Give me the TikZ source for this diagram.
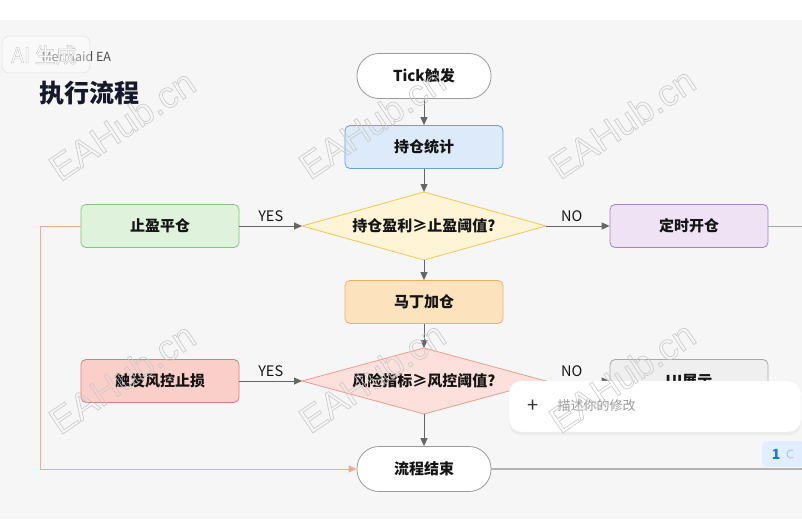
\documentclass[tikz,border=0pt]{standalone}
\usepackage{fontspec}
\setmainfont{Noto Sans CJK SC}
\newfontfamily\wmfont{Liberation Sans}
\usetikzlibrary{arrows.meta,shadows}
\definecolor{bgc}{HTML}{F6F6F6}
\definecolor{edgec}{HTML}{666666}
\definecolor{txtc}{HTML}{151515}
\definecolor{bluef}{HTML}{DCEAFA}\definecolor{blued}{HTML}{6AA0E0}
\definecolor{yelf}{HTML}{FFF5D6}\definecolor{yeld}{HTML}{F2C55C}
\definecolor{grnf}{HTML}{DFF3DC}\definecolor{grnd}{HTML}{7FC77C}
\definecolor{purf}{HTML}{EEE2F4}\definecolor{purd}{HTML}{A684CC}
\definecolor{orgf}{HTML}{FDE3BD}\definecolor{orgd}{HTML}{F0B060}
\definecolor{rdf}{HTML}{FDE0DC}\definecolor{rdd}{HTML}{EE9A90}
\definecolor{rbf}{HTML}{FBCFC9}\definecolor{rbd}{HTML}{E07A78}
\definecolor{uif}{HTML}{EFEFEF}\definecolor{uid}{HTML}{A8A8A8}
\definecolor{stad}{HTML}{9A9A9A}
\definecolor{pinkl}{HTML}{F5A898}
\definecolor{wmc}{HTML}{C8C8C8}
\definecolor{badgef}{HTML}{E0EEFF}
\definecolor{badget}{HTML}{1A73E8}
\newcommand{\outlinetext}[1]{\special{pdf:literal direct 1 Tr 0.7 w}#1\special{pdf:literal direct 0 Tr}}
\newcommand{\whiteoutline}[1]{\special{pdf:literal direct 2 Tr 0.5 w 0.8 G}#1\special{pdf:literal direct 0 Tr}}
\tikzset{
  boxnode/.style={draw, line width=0.8pt, rounded corners=5pt, minimum width=158pt, minimum height=43pt, font=\bfseries\fontsize{15}{18}\selectfont, text=txtc},
  stadnode/.style={draw=stad, fill=white, line width=0.8pt, rounded corners=22pt, minimum width=134pt, minimum height=45pt, font=\bfseries\fontsize{15}{18}\selectfont, text=txtc},
  dlabel/.style={font=\bfseries\fontsize{15}{18}\selectfont, text=txtc},
  arr/.style={draw=edgec, line width=1pt, -{Triangle[width=7pt,length=8pt]}},
  elabel/.style={font=\fontsize{14.5}{16}\selectfont, text=txtc, above=0pt},
  wmark/.style={font=\wmfont\fontsize{37}{40}\selectfont, text=wmc, rotate=34, opacity=0.9},
}
\begin{document}
\begin{tikzpicture}[x=1pt,y=-1pt]
\useasboundingbox (0,0) rectangle (802,519);
\fill[white] (0,0) rectangle (802,519);
\fill[bgc] (0,20) rectangle (802,519);
% header
\node[anchor=west, font=\fontsize{12.5}{14}\selectfont, text=black!70] (brand) at (38,57) {Mermaid EA};
\node[anchor=west, font=\bfseries\fontsize{25}{30}\selectfont, text={rgb,255:red,22;green,24;blue,45}] (title) at (36,93) {执行流程};
\draw[draw=black!10, fill=white, fill opacity=0.4, line width=0.8pt, rounded corners=7pt] (2,36) rectangle (90,73);
\node[font=\fontsize{21}{24}\selectfont, text=white] (aibadge) at (44,55) {\whiteoutline{AI 生成}};
% nodes
\node[stadnode] (tick) at (424,76) {Tick触发};
\node[boxnode, fill=bluef, draw=blued] (stat) at (424,147) {持仓统计};
\coordinate (d1t) at (424,192); \coordinate (d1b) at (424,260);
\coordinate (d1l) at (302,226); \coordinate (d1r) at (546,226);
\draw[fill=yelf, draw=yeld, line width=0.8pt] (d1t) -- (d1r) -- (d1b) -- (d1l) -- cycle;
\node[dlabel] (d1) at (424,226) {持仓盈利≥止盈阈值?};
\node[boxnode, fill=grnf, draw=grnd] (tp) at (160,226) {止盈平仓};
\node[boxnode, fill=purf, draw=purd] (open) at (689,226) {定时开仓};
\node[boxnode, fill=orgf, draw=orgd] (mart) at (424,302) {马丁加仓};
\coordinate (d2t) at (424,348); \coordinate (d2b) at (424,414);
\coordinate (d2l) at (302,381); \coordinate (d2r) at (546,381);
\draw[fill=rdf, draw=rdd, line width=0.8pt] (d2t) -- (d2r) -- (d2b) -- (d2l) -- cycle;
\node[dlabel] (d2) at (424,381) {风险指标≥风控阈值?};
\node[boxnode, fill=rbf, draw=rbd] (risk) at (160,381) {触发风控止损};
\node[boxnode, fill=uif, draw=uid] (ui) at (689,381) {UI展示};
\node[stadnode] (end) at (424,469) {流程结束};
\coordinate (rc1) at (802,226);
\coordinate (rc2) at (802,469);
\coordinate (lc) at (40,226);
% edges
\draw[arr] (tick) -- (stat);
\draw[arr] (stat) -- (d1t);
\draw[arr] (d1b) -- (mart);
\draw[arr] (mart) -- (d2t);
\draw[arr] (d2b) -- (end);
\draw[arr] (tp) -- node[elabel] {YES} (d1l);
\draw[arr] (d1r) -- node[elabel, xshift=-6pt] {NO} (open);
\draw[arr] (risk) -- node[elabel] {YES} (d2l);
\draw[arr] (d2r) -- node[elabel, xshift=-6pt] {NO} (ui);
\draw[draw=pinkl, line width=0.9pt, -{Triangle[width=7pt,length=8pt]}] (tp.west) -- (lc) |- (end.west);
\draw[draw=black!35, line width=1pt] (open.east) -- (rc1);
\draw[draw=black!30, line width=1.2pt] (end.east) -- (rc2);
% overlay input box
\draw[draw=black!6, fill=white, rounded corners=12pt, drop shadow={opacity=0.09, shadow xshift=0pt, shadow yshift=-3pt}] (509,381) rectangle (801,432);
\node[font=\fontsize{20}{22}\selectfont, text=black!80] (plus) at (533,406) {+};
\node[anchor=west, font=\fontsize{13}{15}\selectfont, text=black!40] (hint) at (554,406) {描述你的修改};
% badge
\fill[badgef, rounded corners=6pt] (762,441) rectangle (806,467);
\node[font=\bfseries\fontsize{14}{16}\selectfont, text=badget] (cnt) at (776,454) {1};
\draw[badget!40, line width=1pt] (793,457.5) arc[start angle=60, end angle=300, radius=4];
% watermarks
\foreach \wx/\wy [count=\i] in {122/125, 372/123, 622/123, 122/378, 372/377, 622/377}{
  \node[wmark] (wm\i) at (\wx,\wy) {\outlinetext{EAHub.cn}};
}
\end{tikzpicture}
\end{document}
